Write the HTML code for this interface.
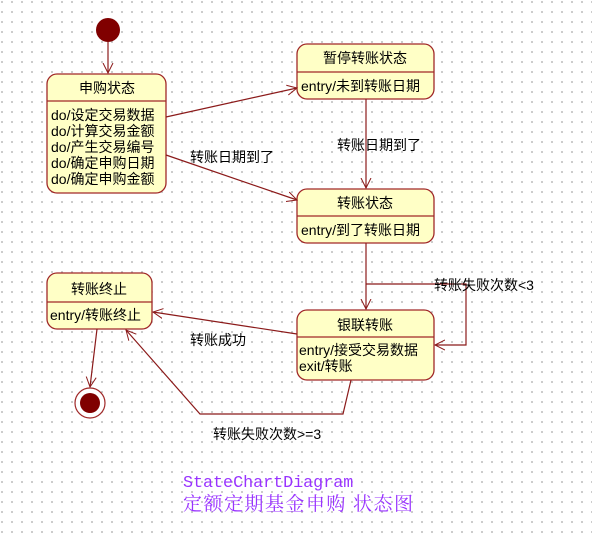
<!DOCTYPE html>
<html><head><meta charset="utf-8"><style>
body{margin:0;width:592px;height:533px;overflow:hidden;background:#fff;
background-image:radial-gradient(circle,#bbb 0.8px,transparent 1px);background-size:10px 10px;background-position:-3px -3px}
svg{position:absolute;left:0;top:0}
text{font-family:"Liberation Sans","Noto Sans CJK SC",sans-serif;font-size:14px;fill:#000}
</style></head><body>
<svg width="592" height="533" viewBox="0 0 592 533">
<defs><marker id="a" markerWidth="12" markerHeight="12" refX="10" refY="6" orient="auto" markerUnits="userSpaceOnUse"><path d="M0,1 L10,6 L0,11" fill="none" stroke="#8b1a1a" stroke-width="1"/></marker></defs>
<g fill="#ffffc6" stroke="#a02828" stroke-width="1.3">
<rect x="47" y="74" width="119" height="119" rx="10"/>
<rect x="297" y="44" width="137" height="55" rx="10"/>
<rect x="297" y="189" width="137" height="54" rx="10"/>
<rect x="47" y="273" width="105" height="56" rx="10"/>
<rect x="297" y="310" width="137" height="70" rx="10"/>
</g>
<g stroke="#a02828" stroke-width="1.2">
<line x1="47" y1="101" x2="166" y2="101"/>
<line x1="297" y1="72" x2="434" y2="72"/>
<line x1="297" y1="216" x2="434" y2="216"/>
<line x1="47" y1="302" x2="152" y2="302"/>
<line x1="297" y1="337" x2="434" y2="337"/>
</g>
<circle cx="108" cy="30" r="12" fill="#800000"/>
<circle cx="90" cy="403" r="15" fill="#fff" stroke="#a02828" stroke-width="1.2"/>
<circle cx="90" cy="403" r="10" fill="#800000"/>
<g stroke="#8b1a1a" stroke-width="1.2" fill="none" marker-end="url(#a)">
<line x1="108" y1="42" x2="108" y2="73"/>
<line x1="166" y1="117" x2="297" y2="88"/>
<line x1="166" y1="155" x2="297" y2="200"/>
<line x1="366" y1="99" x2="366" y2="188"/>
<line x1="366" y1="243" x2="366" y2="309"/>
<polyline points="366,284 466,284 466,345 435,345"/>
<line x1="297" y1="334" x2="153" y2="312"/>
<polyline points="351,380 343,414 200,414 126,330"/>
<line x1="97" y1="329" x2="90" y2="387"/>
</g>
<g text-anchor="middle">
<text x="107" y="93">申购状态</text>
<text x="365" y="63">暂停转账状态</text>
<text x="365" y="208">转账状态</text>
<text x="99" y="294">转账终止</text>
<text x="365" y="330">银联转账</text>
</g>
<g>
<text x="51" y="120">do/设定交易数据</text>
<text x="51" y="136">do/计算交易金额</text>
<text x="51" y="152">do/产生交易编号</text>
<text x="51" y="168">do/确定申购日期</text>
<text x="51" y="184">do/确定申购金额</text>
<text x="301" y="91">entry/未到转账日期</text>
<text x="301" y="235">entry/到了转账日期</text>
<text x="50" y="320">entry/转账终止</text>
<text x="299" y="355">entry/接受交易数据</text>
<text x="299" y="371">exit/转账</text>
<text x="190" y="162">转账日期到了</text>
<text x="337" y="150">转账日期到了</text>
<text x="434" y="290">转账失败次数&lt;3</text>
<text x="190" y="345">转账成功</text>
<text x="213" y="439">转账失败次数&gt;=3</text>
</g>
<text x="183" y="487" style="font-family:'Liberation Mono',monospace;font-size:16.7px;fill:#9933ff">StateChartDiagram</text>
<text x="183" y="510" textLength="230" lengthAdjust="spacing" style="font-family:'Liberation Serif','Noto Serif CJK SC',serif;font-size:19px;fill:#9933ff">定额定期基金申购 状态图</text>
</svg>
</body></html>
